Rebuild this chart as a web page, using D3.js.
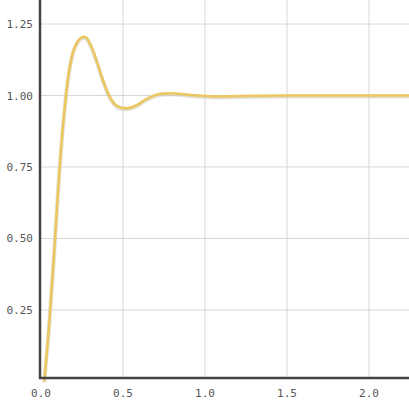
<!DOCTYPE html>
<html><head><meta charset="utf-8">
<script src="https://cdn.jsdelivr.net/npm/d3@7"></script>
<style>body{margin:0;background:#fff}svg text{font-family:"DejaVu Sans Mono",monospace;font-size:11px;fill:#555}</style>
</head><body><svg id="c" width="409" height="402"></svg>
<script>
// step response
var tVals = [0.02,0.05,0.08,0.11,0.14,0.17,0.20,0.24,0.27,0.30,0.34,0.38,0.42,0.46,0.52,0.58,0.65,0.72,0.79,0.86,0.95,1.05,1.20,1.50,2.25];
var yVals = [0.0,0.2,0.45,0.72,0.93,1.08,1.16,1.2,1.205,1.18,1.12,1.05,0.995,0.965,0.955,0.965,0.99,1.005,1.008,1.005,1.0,0.997,0.998,1.0,1.0];
var xTicks = [0, 0.5, 1.0, 1.5, 2.0];
var yTicks = [0.25, 0.5, 0.75, 1.0, 1.25];

var svg = d3.select("#c");
var x = d3.scaleLinear().domain([0, 2.244]).range([41, 409]);
var y = d3.scaleLinear().domain([0.012, 1.334]).range([378, 0]);

svg.append("g").selectAll("line").data(xTicks.slice(1)).enter().append("line")
  .attr("x1", d => x(d)).attr("x2", d => x(d)).attr("y1", 0).attr("y2", 378)
  .attr("stroke", "#d8d8d8");
svg.append("g").selectAll("line").data(yTicks).enter().append("line")
  .attr("x1", 40).attr("x2", 409).attr("y1", d => y(d)).attr("y2", d => y(d))
  .attr("stroke", "#d8d8d8");

var pts = tVals.map((t, i) => [t, yVals[i]]);
var line = d3.line().x(d => x(d[0])).y(d => y(d[1])).curve(d3.curveCatmullRom);
svg.append("path").attr("d", line(pts)).attr("fill", "none")
  .attr("stroke", "#c8c0a8").attr("stroke-width", 4).attr("opacity", 0.5)
  .attr("transform", "translate(0,1)");
svg.append("path").attr("d", line(pts)).attr("fill", "none")
  .attr("stroke", "#ebc75e").attr("stroke-width", 2.5);

svg.append("line").attr("x1", 40).attr("x2", 40).attr("y1", 0).attr("y2", 379)
  .attr("stroke", "#444").attr("stroke-width", 2.5);
svg.append("line").attr("x1", 39).attr("x2", 409).attr("y1", 378).attr("y2", 378)
  .attr("stroke", "#444").attr("stroke-width", 2.5);

svg.append("g").selectAll("text").data(xTicks).enter().append("text")
  .attr("x", d => x(d)).attr("y", 397).attr("text-anchor", "middle")
  .text(d => d.toFixed(1));
svg.append("g").selectAll("text").data(yTicks).enter().append("text")
  .attr("x", 33).attr("y", d => y(d) + 4).attr("text-anchor", "end")
  .text(d => d.toFixed(2));
</script></body></html>
